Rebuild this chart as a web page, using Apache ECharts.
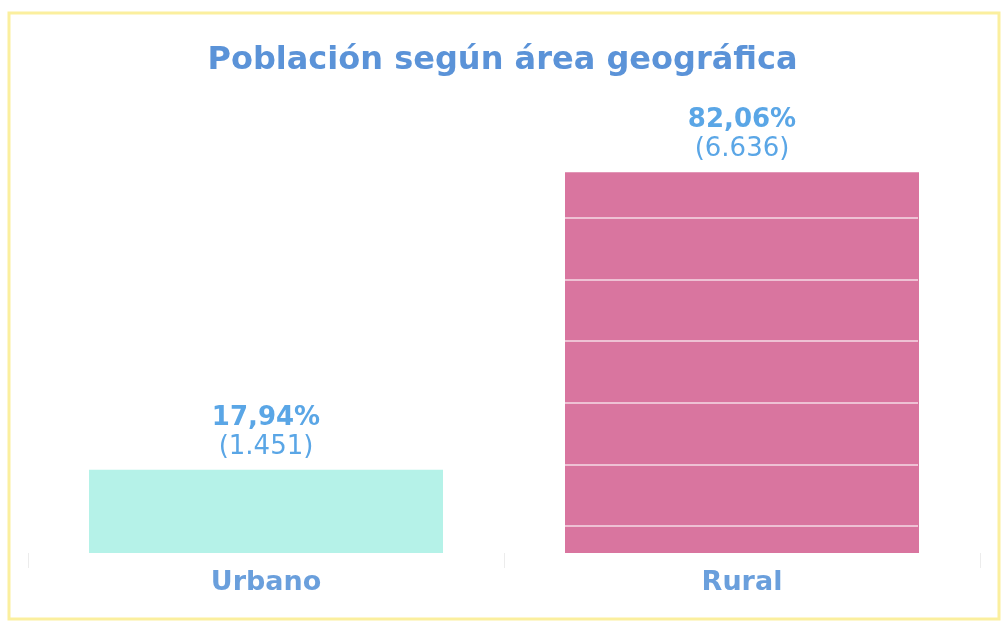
<!DOCTYPE html>
<html>
<head>
<meta charset="utf-8">
<script src="https://cdn.jsdelivr.net/npm/echarts@6/dist/echarts.min.js"></script>
<style>
  html, body { margin: 0; padding: 0; background: #fff; }
  #chart { width: 1005px; height: 622px; }
</style>
</head>
<body>
<div id="chart"></div>
<script>
// datos del gráfico
const categories = ['Urbano', 'Rural'];
const percents = [17.94, 82.06];
const counts = [1451, 6636];
const barColors = ['#b5f2e8', '#d9759f'];

// 17.94 -> "17,94%" ; 1451 -> "(1.451)"
const fmtPct = v => v.toFixed(2).replace('.', ',') + '%';
const fmtCount = v => '(' + String(v).replace(/\B(?=(\d{3})+(?!\d))/g, '.') + ')';

const FONT = 'DejaVu Sans, sans-serif';
const chart = echarts.init(document.getElementById('chart'));

const option = {
  backgroundColor: '#fff',
  animation: false,
  title: {
    text: 'Población según área geográfica',
    left: 'center',
    top: 40,
    textStyle: {
      fontFamily: FONT,
      fontSize: 32,
      fontWeight: 'bold',
      color: '#5b93d8'
    }
  },
  graphic: [{
    type: 'rect',
    shape: { x: 9, y: 13, width: 990, height: 606 },
    style: { fill: 'none', stroke: '#fbef9e', lineWidth: 3 },
    z: 0
  }],
  grid: [
    { left: 28, right: 25, top: 89, bottom: 69 },
    // líneas blancas sobre la barra rural
    { left: 565, right: 87, top: 218, bottom: 96 }
  ],
  xAxis: [
    {
      type: 'category',
      gridIndex: 0,
      data: categories,
      axisLine: { show: false },
      axisTick: { show: true, length: 15, lineStyle: { color: '#ececec' } },
      axisLabel: {
        margin: 16,
        fontFamily: FONT,
        fontSize: 27,
        fontWeight: 'bold',
        color: '#6a9fdc'
      }
    },
    { type: 'value', gridIndex: 1, min: 0, max: 1, show: false }
  ],
  yAxis: [
    { type: 'value', gridIndex: 0, min: 0, max: 100, show: false },
    {
      type: 'value', gridIndex: 1, min: 0, max: 5, interval: 1, z: 10,
      axisLine: { show: false }, axisTick: { show: false }, axisLabel: { show: false },
      splitLine: { show: true, lineStyle: { color: 'rgba(255,255,255,0.55)', width: 2 } }
    }
  ],
  series: [{
    type: 'bar',
    xAxisIndex: 0,
    yAxisIndex: 0,
    barWidth: 354,
    data: percents.map((v, i) => ({ value: v, itemStyle: { color: barColors[i] } })),
    label: {
      show: true,
      position: 'top',
      distance: 8,
      formatter: p => '{a|' + fmtPct(p.value) + '}\n{b|' + fmtCount(counts[p.dataIndex]) + '}',
      rich: {
        a: {
          fontFamily: FONT,
          fontSize: 26, fontWeight: 'bold', color: '#5aa6e6', lineHeight: 29, align: 'center'
        },
        b: {
          fontFamily: FONT,
          fontSize: 26, color: '#5aa6e6', lineHeight: 29, align: 'center'
        }
      }
    }
  }]
};

chart.setOption(option);
</script>
</body>
</html>
